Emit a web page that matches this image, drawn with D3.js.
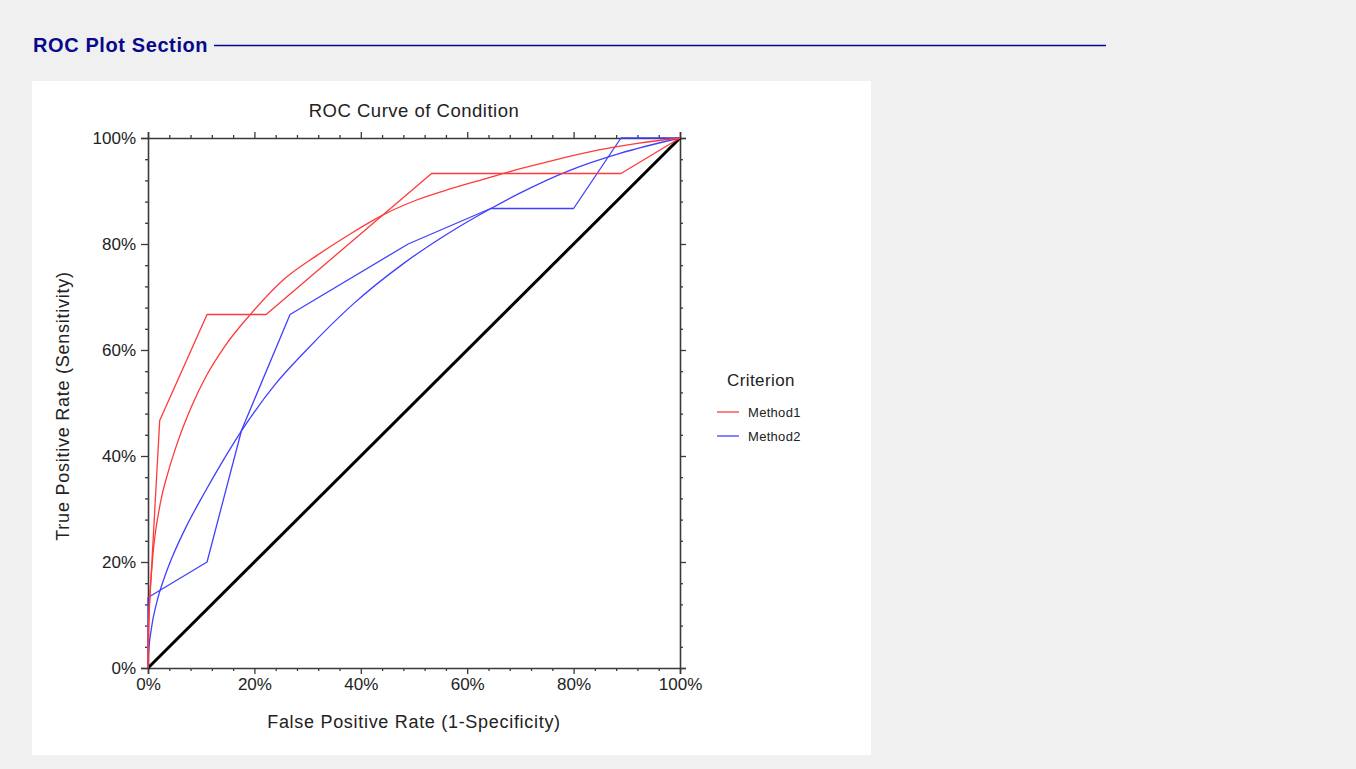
<!DOCTYPE html>
<html>
<head>
<meta charset="utf-8">
<script src="https://cdn.jsdelivr.net/npm/d3@7"></script>
<style>
  html, body { margin: 0; padding: 0; background: #f0f0f0; }
  svg { display: block; font-family: "Liberation Sans", Arial, sans-serif; }
</style>
</head>
<body>
<svg id="chart" width="1356" height="769"></svg>
<script>
// ---- data (percent) ----
const xTickValues = [0, 20, 40, 60, 80, 100];
const yTickValues = [0, 20, 40, 60, 80, 100];
const tickLabels = ["0%", "20%", "40%", "60%", "80%", "100%"];
const seriesNames = ["Method1", "Method2"];

// Method1 empirical ROC (FPR, TPR)
const m1EmpFPR = [0, 0, 2.2, 11.1, 22.2, 53.3, 88.9, 100];
const m1EmpTPR = [0, 6.7, 46.7, 66.7, 66.7, 93.3, 93.3, 100];
// Method1 smoothed ROC
const m1SmFPR = [0, 0.05, 0.2, 0.7, 2.3, 3.8, 5.7, 8.2, 11, 14.5, 19.5, 25.4, 31.7, 38, 44.2, 50.5, 56.8, 63.7, 70, 76.2, 85, 92, 100];
const m1SmTPR = [0, 4, 10, 18.5, 31, 37, 43, 49.4, 55.2, 60.8, 67, 73.2, 77.8, 81.9, 85.5, 88.3, 90.4, 92.4, 94.2, 95.8, 97.8, 99, 100];
// Method2 empirical ROC
const m2EmpFPR = [0, 0, 11.1, 17.6, 26.7, 48.9, 64.4, 80, 88.9, 100];
const m2EmpTPR = [0, 13.3, 20, 44.9, 66.7, 80, 86.7, 86.7, 100, 100];
// Method2 smoothed ROC
const m2SmFPR = [0, 0.1, 0.6, 1.6, 3.2, 4.5, 7, 10.7, 13.8, 17.3, 23.9, 29.8, 38.6, 48, 57.4, 64.3, 69.9, 79.3, 88.7, 100];
const m2SmTPR = [0, 2.5, 7.2, 12.2, 17.4, 20.8, 26.3, 33.2, 38.6, 44.3, 53.5, 60, 68.7, 76.3, 82.6, 86.6, 89.6, 93.9, 97.1, 100];
// chance line
const diagFPR = [0, 100];
const diagTPR = [0, 100];

// ---- layout ----
const svg = d3.select("#chart");
const colors = { Method1: "#ff3a3a", Method2: "#4040ff" };

// header
svg.append("text").attr("x", 33).attr("y", 52)
  .attr("font-size", 20).attr("font-weight", "bold").attr("fill", "#08088a")
  .attr("letter-spacing", 0.6)
  .text("ROC Plot Section");
svg.append("line").attr("x1", 214).attr("x2", 1106).attr("y1", 45.5).attr("y2", 45.5)
  .attr("stroke", "#08088a").attr("stroke-width", 1.6);

// white panel
svg.append("rect").attr("x", 32).attr("y", 81).attr("width", 839).attr("height", 674).attr("fill", "#ffffff");

const x = d3.scaleLinear().domain([0, 100]).range([148, 680]);
const y = d3.scaleLinear().domain([0, 100]).range([668, 138]);

const minorVals = d3.range(0, 101, 4).filter(v => v % 20 !== 0);
const axisColor = "#3a3a3a";

function styleAxis(g) {
  g.selectAll("path").attr("stroke", axisColor).attr("stroke-width", 1.6);
  g.selectAll("line").attr("stroke", axisColor).attr("stroke-width", 1.3);
  g.selectAll("text").attr("fill", "#222").attr("font-size", 17)
    .attr("font-family", "'Liberation Sans', Arial, sans-serif");
}

// bottom
const gB = svg.append("g").attr("transform", "translate(0,668)")
  .call(d3.axisBottom(x).tickValues(xTickValues).tickSize(6).tickPadding(4)
    .tickFormat((d, i) => tickLabels[i]));
styleAxis(gB);
const gBm = svg.append("g").attr("transform", "translate(0,668)")
  .call(d3.axisBottom(x).tickValues(minorVals).tickSize(3).tickFormat(""));
styleAxis(gBm); gBm.select("path").remove();

// left
const gL = svg.append("g").attr("transform", "translate(148,0)")
  .call(d3.axisLeft(y).tickValues(yTickValues).tickSize(7).tickPadding(5)
    .tickFormat((d, i) => tickLabels[i]));
styleAxis(gL);
const gLm = svg.append("g").attr("transform", "translate(148,0)")
  .call(d3.axisLeft(y).tickValues(minorVals).tickSize(3).tickFormat(""));
styleAxis(gLm); gLm.select("path").remove();

// top
const gT = svg.append("g").attr("transform", "translate(0,138)")
  .call(d3.axisTop(x).tickValues(xTickValues).tickSize(6).tickFormat(""));
styleAxis(gT);
const gTm = svg.append("g").attr("transform", "translate(0,138)")
  .call(d3.axisTop(x).tickValues(minorVals).tickSize(3).tickFormat(""));
styleAxis(gTm); gTm.select("path").remove();

// right
const gR = svg.append("g").attr("transform", "translate(680,0)")
  .call(d3.axisRight(y).tickValues(yTickValues).tickSize(6).tickFormat(""));
styleAxis(gR);
const gRm = svg.append("g").attr("transform", "translate(680,0)")
  .call(d3.axisRight(y).tickValues(minorVals).tickSize(3).tickFormat(""));
styleAxis(gRm); gRm.select("path").remove();

// lines
const line = d3.line().x(d => x(d[0])).y(d => y(d[1]));
const smoothLine = d3.line().x(d => x(d[0])).y(d => y(d[1])).curve(d3.curveMonotoneX);
const zip = (a, b) => a.map((v, i) => [v, b[i]]);

const plot = svg.append("g");
plot.append("path").datum(zip(diagFPR, diagTPR)).attr("d", line)
  .attr("fill", "none").attr("stroke", "#000").attr("stroke-width", 3);

[[m2SmFPR, m2SmTPR, "Method2", smoothLine], [m2EmpFPR, m2EmpTPR, "Method2", line],
 [m1SmFPR, m1SmTPR, "Method1", smoothLine], [m1EmpFPR, m1EmpTPR, "Method1", line]].forEach(([fx, ty, name, gen]) => {
  plot.append("path").datum(zip(fx, ty)).attr("d", gen)
    .attr("fill", "none").attr("stroke", colors[name]).attr("stroke-width", 1.3)
    .attr("stroke-linejoin", "round");
});

// title & axis labels
svg.append("text").attr("x", 414).attr("y", 117).attr("text-anchor", "middle")
  .attr("font-size", 18.5).attr("letter-spacing", 0.5).attr("fill", "#222").text("ROC Curve of Condition");
svg.append("text").attr("x", 414).attr("y", 728).attr("text-anchor", "middle")
  .attr("font-size", 18).attr("letter-spacing", 0.7).attr("fill", "#222").text("False Positive Rate (1-Specificity)");
svg.append("text").attr("transform", "translate(69,406) rotate(-90)").attr("text-anchor", "middle")
  .attr("font-size", 18).attr("letter-spacing", 0.75).attr("fill", "#222").text("True Positive Rate (Sensitivity)");

// legend
svg.append("text").attr("x", 761).attr("y", 386).attr("text-anchor", "middle")
  .attr("font-size", 17).attr("letter-spacing", 0.4).attr("fill", "#222").text("Criterion");
seriesNames.forEach((name, i) => {
  const ly = 412 + i * 24;
  svg.append("line").attr("x1", 717).attr("x2", 739).attr("y1", ly).attr("y2", ly)
    .attr("stroke", colors[name]).attr("stroke-width", 1.3);
  svg.append("text").attr("x", 748).attr("y", ly + 4.5)
    .attr("font-size", 13).attr("letter-spacing", 0.3).attr("fill", "#222").text(name);
});
</script>
</body>
</html>
